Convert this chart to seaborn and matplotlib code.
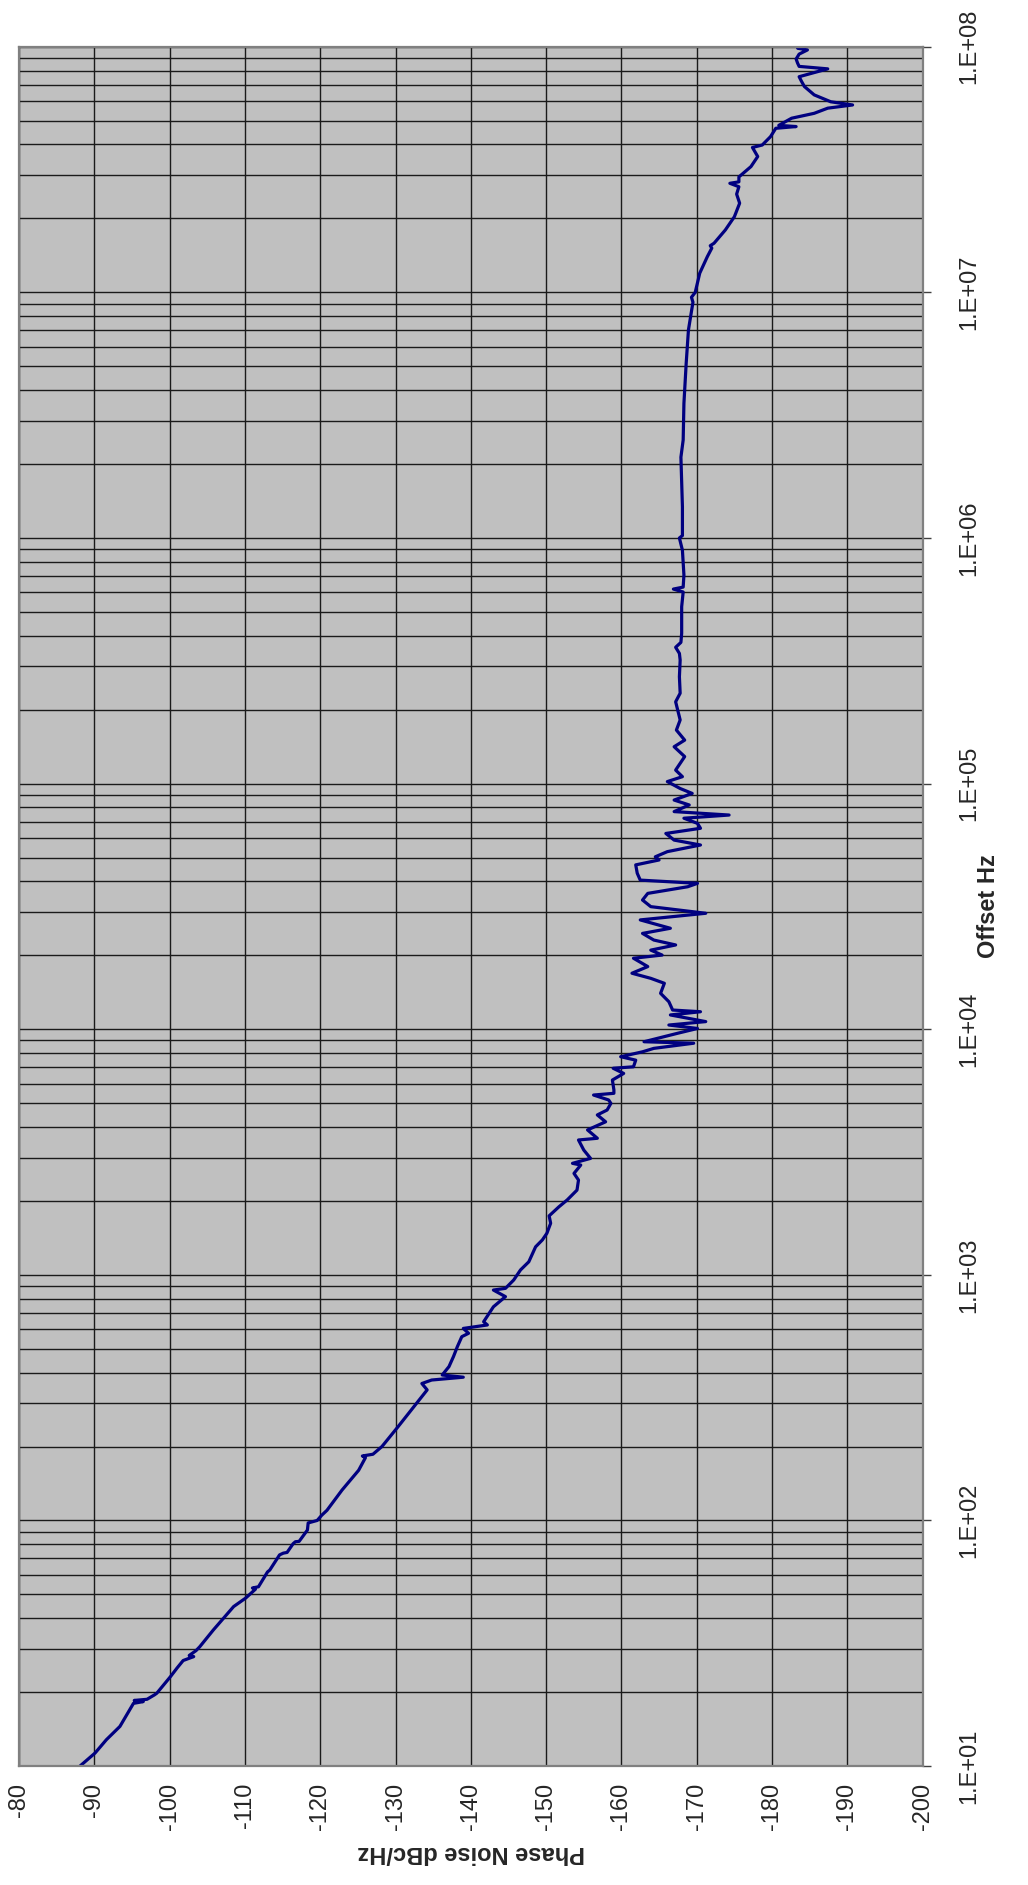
import matplotlib
matplotlib.use("Agg")
import matplotlib.pyplot as plt
import matplotlib.ticker as mticker
import numpy as np
import pandas as pd
import seaborn as sns

offset_hz = [
    10.0, 11.3, 12.8, 14.5, 18.0, 18.3, 18.5, 18.7, 19.5, 19.8,
    23.1, 25.1, 26.9, 27.9, 28.2, 29.5, 30.6, 35.8, 44.6, 48.3,
    52.5, 53.1, 53.7, 61.7, 62.8, 72.4, 73.6, 74.1, 80.4, 81.9,
    82.2, 91.4, 97.7, 100, 105, 110, 133, 160, 180, 183,
    186, 200, 240, 300, 340, 361, 373, 383, 391, 423,
    465, 509, 560, 578, 605, 625, 644, 741, 815, 867,
    881, 953, 1047, 1130, 1300, 1387, 1476, 1622, 1738, 1892,
    2018, 2213, 2432, 2588, 2799, 2844, 2979, 3221, 3540, 3597,
    3890, 4198, 4477, 4688, 4989, 5152, 5395, 5483, 5662, 6209,
    6607, 6934, 7031, 7482, 7727, 8091, 8356, 8770, 8892, 9616,
    10070, 10400, 10740, 11430, 11780, 11970, 12940, 14000, 15380, 16110,
    16900, 17990, 19450, 20040, 20990, 22030, 23070, 24550, 25760, 27860,
    29650, 31550, 33570, 35730, 38020, 39260, 40460, 43150, 46670, 48870,
    50350, 52840, 56230, 58880, 62660, 65770, 68870, 72280, 74470, 76910,
    81850, 85700, 91200, 95500, 101900, 106700, 113500, 128800, 141300, 150300,
    165200, 181600, 215300, 233300, 272300, 318400, 338800, 358900, 375800, 409300,
    524800, 602600, 619400, 631000, 706300, 891300, 1.0e6, 1.023e6, 1.34e6, 2.133e6,
    2.506e6, 3.532e6, 5.14e6, 7.031e6, 9.12e6, 9.55e6, 1.0e7, 1.197e7, 1.396e7, 1.514e7,
    1.549e7, 1.585e7, 1.795e7, 2.032e7, 2.307e7, 2.512e7, 2.692e7, 2.780e7, 2.818e7, 2.951e7,
    3.251e7, 3.573e7, 3.89e7, 3.98e7, 4.305e7, 4.656e7, 4.732e7, 4.786e7, 5.117e7, 5.358e7,
    5.623e7, 5.794e7, 5.97e7, 6.368e7, 6.887e7, 7.244e7, 7.551e7, 8.128e7, 8.318e7, 8.57e7,
    8.913e7, 9.333e7, 9.705e7, 9.863e7, 1.0e8,
]
noise_dbc = [
    -88.1, -90.1, -91.6, -93.4, -95.2, -96.5, -95.3, -97.0, -98.0, -98.3,
    -100.1, -101.0, -101.8, -103.2, -102.6, -103.5, -104.0, -105.8, -108.5, -110.1,
    -111.4, -111.0, -111.8, -113.0, -113.3, -114.6, -115.1, -115.6, -116.4, -116.7,
    -117.2, -118.3, -118.4, -119.6, -120.2, -120.9, -122.9, -125.1, -126.0, -125.6,
    -127.0, -128.2, -130.3, -132.8, -134.2, -133.5, -134.8, -139.0, -136.2, -137.1,
    -137.7, -138.2, -138.8, -139.7, -139.0, -142.2, -141.7, -143.0, -144.6, -143.0,
    -144.6, -145.7, -146.6, -147.7, -148.6, -149.5, -150.1, -150.6, -150.4, -151.7,
    -152.8, -154.1, -154.3, -153.7, -154.6, -153.5, -155.9, -155.0, -154.3, -156.8,
    -155.5, -157.9, -156.8, -158.1, -158.6, -158.3, -156.3, -159.0, -159.0, -158.8,
    -160.3, -158.9, -161.6, -161.9, -159.9, -162.8, -164.3, -169.6, -163.0, -167.4,
    -170.1, -166.3, -171.2, -166.5, -170.5, -166.8, -166.3, -165.2, -165.7, -163.9,
    -161.4, -163.5, -161.6, -165.4, -163.9, -167.2, -164.3, -162.8, -166.5, -162.5,
    -171.2, -163.9, -162.8, -163.5, -168.8, -170.1, -162.5, -162.1, -161.9, -165.0,
    -164.5, -166.1, -170.5, -167.0, -165.9, -170.5, -170.1, -168.3, -174.3, -167.0,
    -169.0, -167.0, -169.4, -167.8, -166.1, -168.1, -167.2, -168.4, -167.0, -168.4,
    -167.3, -167.8, -167.2, -167.8, -167.7, -167.8, -167.7, -167.2, -167.9, -168.0,
    -168.0, -168.2, -166.9, -168.2, -168.3, -168.1, -167.7, -168.1, -168.1, -167.9,
    -168.2, -168.3, -168.6, -168.9, -169.5, -169.3, -169.8, -170.4, -171.4, -172.0,
    -171.8, -172.3, -173.8, -175.0, -175.7, -175.3, -175.6, -174.4, -175.6, -175.6,
    -177.2, -178.1, -177.4, -178.7, -179.8, -180.5, -183.2, -180.9, -182.6, -185.6,
    -187.4, -190.7, -187.8, -185.6, -184.3, -183.9, -183.6, -187.4, -183.6, -183.4,
    -183.2, -183.6, -184.7, -183.4, -184.4,
]

dbc_ticks = [-80, -90, -100, -110, -120, -130, -140, -150, -160, -170, -180, -190, -200]
decade_ticks = [1e1, 1e2, 1e3, 1e4, 1e5, 1e6, 1e7, 1e8]

df = pd.DataFrame({"Offset Hz": offset_hz, "Phase Noise": noise_dbc})

sns.set_style("white")
plt.rcParams["font.family"] = ["Liberation Sans", "DejaVu Sans"]

fig = plt.figure(figsize=(10.28, 18.85), dpi=100)
ax = fig.add_axes([0.0185, 0.0631, 0.879, 0.9121])
ax.set_facecolor("#C0C0C0")

# chart is drawn turned on its side: dBc runs left->right, offset runs bottom->top
sns.lineplot(data=df, x="Phase Noise", y="Offset Hz", sort=False, estimator=None,
             color="#000080", linewidth=2.3, ax=ax)

ax.set_yscale("log")
ax.set_ylim(1e1, 1e8)
ax.set_xlim(-80, -200)

ax.set_xticks(dbc_ticks)
ax.set_xticklabels([str(t) for t in dbc_ticks], rotation=90, fontsize=17)
ax.yaxis.tick_right()
ax.set_yticks(decade_ticks)
ax.yaxis.set_major_formatter(mticker.FuncFormatter(lambda v, p: "1.E+%02d" % round(np.log10(v))))
ax.yaxis.set_minor_locator(mticker.LogLocator(base=10, subs=np.arange(2, 10), numticks=100))
ax.yaxis.set_minor_formatter(mticker.NullFormatter())
for lab in ax.get_yticklabels():
    lab.set_rotation(90)
    lab.set_fontsize(17)
    lab.set_va("center")

ax.tick_params(axis="both", which="major", direction="out", length=6, width=1, color="#404040", pad=6)
ax.tick_params(axis="y", which="major", pad=20)
ax.tick_params(axis="y", which="minor", length=0)

ax.grid(True, axis="x", color="#1a1a1a", linewidth=1.0)
ax.grid(True, axis="y", which="both", color="#1a1a1a", linewidth=1.0)
ax.set_axisbelow(True)

for s in ax.spines.values():
    s.set_color("#808080")
    s.set_linewidth(1.6)

ax.set_xlabel("Phase Noise dBc/Hz", rotation=180, fontsize=17, fontweight="bold", labelpad=8)
ax.yaxis.set_label_position("right")
ax.set_ylabel("Offset Hz", rotation=90, fontsize=17, fontweight="bold", labelpad=-3)

fig.savefig("out.png", dpi=100, facecolor="white")
